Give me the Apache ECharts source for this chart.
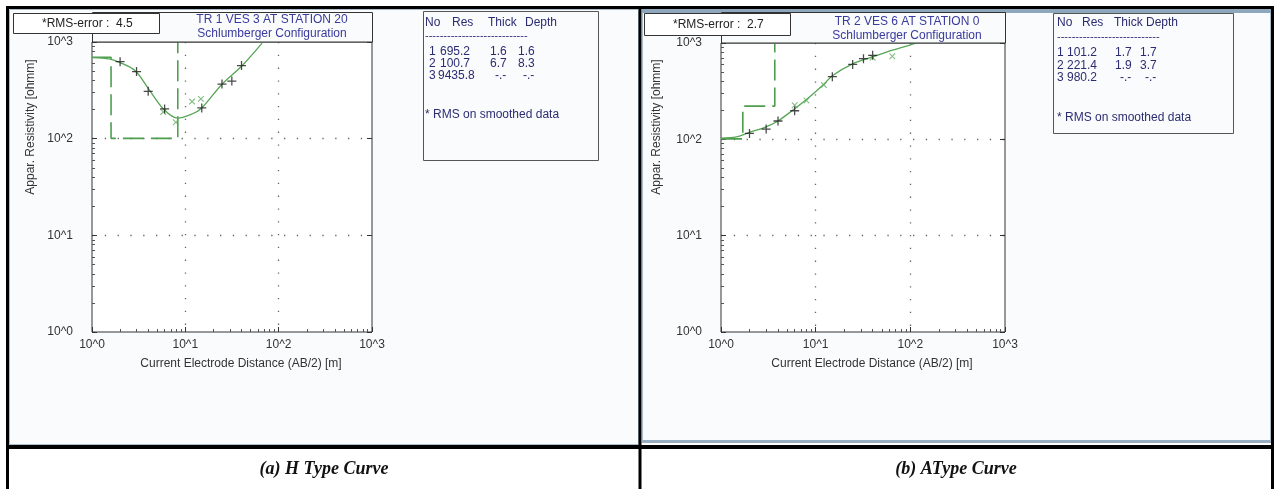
<!DOCTYPE html>
<html><head><meta charset="utf-8">
<script src="https://cdn.jsdelivr.net/npm/echarts@6/dist/echarts.min.js"></script>
<style>html,body{margin:0;padding:0;background:#fff;}#c{width:1275px;height:489px;}</style>
</head><body><div id="c"></div>
<script>
// ---------------- data ----------------
const decadeLabels = ['10^0', '10^1', '10^2', '10^3'];

// (a) H type curve — TR 1 VES 3 AT STATION 20
const hObsX = [2, 3, 4, 6, 15, 24.7, 31.5, 40];
const hObsY = [625, 495, 309, 203, 208, 367, 394, 570];
const hSmoothX = [5.8, 7.9, 11.8, 14.7];
const hSmoothY = [189, 148, 242, 258];
const hCurveX = [1, 1.56, 2, 2.9, 4, 5.8, 8.3, 11.8, 15, 24.7, 40.5, 66.4];
const hCurveY = [690, 665, 612, 504, 332, 204, 163, 180, 208, 366, 569, 975];
const hLayerNo = [1, 2, 3];
const hRes = ['695.2', '100.7', '9435.8'];
const hThick = ['1.6', '6.7', '-.-'];
const hDepth = ['1.6', '8.3', '-.-'];
const hRms = '4.5';
const hTitle = 'TR 1 VES 3 AT STATION 20';
const hCaption = '(a) H Type Curve';

// (b) A type curve — TR 2 VES 6 AT STATION 0
const aObsX = [2, 3, 4, 6, 15, 24.6, 32, 40];
const aObsY = [115, 128, 155, 198, 447, 599, 687, 746];
const aSmoothX = [6, 8, 12.2, 40, 64.5];
const aSmoothY = [226, 253, 367, 705, 728];
const aCurveX = [1, 1.46, 2, 3, 4, 6, 8, 12.2, 15, 24.6, 40, 64.5, 99, 117];
const aCurveY = [103, 106, 118, 135, 155, 208, 259, 373, 458, 608, 716, 843, 953, 1000];
const aLayerNo = [1, 2, 3];
const aRes = ['101.2', '221.4', '980.2'];
const aThick = ['1.7', '1.9', '-.-'];
const aDepth = ['1.7', '3.7', '-.-'];
const aRms = '2.7';
const aTitle = 'TR 2 VES 6 AT STATION 0';
const aCaption = '(b) AType Curve';

const subTitle = 'Schlumberger Configuration';
const xName = 'Current Electrode Distance (AB/2) [m]';
const yName = 'Appar. Resistivity [ohmm]';
const tableHeader = ['No', 'Res', 'Thick', 'Depth'];
const tableNote = '* RMS on smoothed data';

// ---------------- helpers ----------------
const FONT = '"Liberation Sans", Arial, sans-serif';
const pairs = (xs, ys) => xs.map((x, i) => [x, ys[i]]);
function modelSteps(res, depth) {
  const r = res.map(Number), d = depth.filter(v => v !== '-.-').map(Number);
  const pts = [[1, r[0]]];
  d.forEach((dv, i) => { pts.push([dv, r[i]]); pts.push([dv, r[i + 1]]); });
  return pts;
}
const minorVals = [];
[1, 10, 100].forEach(d => { for (let k = 2; k <= 9; k++) minorVals.push(+(d * k).toPrecision(3)); });
const fmt = v => decadeLabels[Math.round(Math.log10(v))];
const PLUS = 'path://M4.3,0h1.4v10h-1.4z M0,4.3h10v1.4h-10z';

const grids = [
  { left: 92, top: 42, width: 280, height: 290 },
  { left: 721, top: 43, width: 284, height: 289 }
];

const xAxes = [], yAxes = [];
grids.forEach((g, gi) => {
  const base = { gridIndex: gi, type: 'log', logBase: 10, min: 1, max: 1000 };
  xAxes.push(Object.assign({}, base, {
    position: 'bottom', axisLine: { show: false },
    axisTick: { inside: true, length: 5, lineStyle: { color: '#333' } },
    axisLabel: { color: '#333', fontSize: 12, fontFamily: FONT, margin: 7, formatter: fmt },
    splitLine: { show: true, showMinLine: false, showMaxLine: false, lineStyle: { color: '#666', width: 1.3, type: [1.3, 11.5] } },
    name: xName, nameLocation: 'middle', nameGap: 26,
    nameTextStyle: { color: '#333', fontSize: 12, fontFamily: FONT, padding: [0, 0, 0, 18] }
  }));
  xAxes.push(Object.assign({}, base, {
    position: 'bottom', axisLine: { show: false },
    axisTick: { inside: true, length: 3, customValues: minorVals, lineStyle: { color: '#555' } },
    axisLabel: { show: false }, splitLine: { show: false }
  }));
  yAxes.push(Object.assign({}, base, {
    position: 'left', axisLine: { show: false },
    axisTick: { inside: true, length: 5, lineStyle: { color: '#333' } },
    axisLabel: { color: '#333', fontSize: 12, fontFamily: FONT, margin: 19, formatter: fmt },
    splitLine: { show: true, showMinLine: false, showMaxLine: false, lineStyle: { color: '#666', width: 1.3, type: [1.3, 11.5] } }
  }));
  yAxes.push(Object.assign({}, base, {
    position: 'left', axisLine: { show: false },
    axisTick: { inside: true, length: 3, customValues: minorVals, lineStyle: { color: '#555' } },
    axisLabel: { show: false }, splitLine: { show: false }
  }));
  yAxes.push(Object.assign({}, base, {
    position: 'right', axisLine: { show: false },
    axisTick: { inside: true, length: 5, lineStyle: { color: '#333' } },
    axisLabel: { show: false }, splitLine: { show: false }
  }));
});

function panelSeries(gi, obsX, obsY, smX, smY, cX, cY, res, depth) {
  const xi = gi * 2, yi = gi * 3;
  return [
    { type: 'line', xAxisIndex: xi, yAxisIndex: yi, data: modelSteps(res, depth), symbol: 'none', clip: true,
      lineStyle: { color: '#4e9e4e', width: 1.6, type: [21, 7] }, z: 3, silent: true },
    { type: 'line', xAxisIndex: xi, yAxisIndex: yi, data: pairs(cX, cY), symbol: 'none', smooth: 0.35, clip: true,
      lineStyle: { color: '#56a656', width: 1.3 }, z: 4, silent: true },
    { type: 'scatter', xAxisIndex: xi, yAxisIndex: yi, data: pairs(smX, smY), symbol: PLUS, symbolSize: 8,
      symbolRotate: 45, itemStyle: { color: '#66ac66' }, z: 5, silent: true },
    { type: 'scatter', xAxisIndex: xi, yAxisIndex: yi, data: pairs(obsX, obsY), symbol: PLUS, symbolSize: 9,
      itemStyle: { color: '#1c1c1c' }, z: 6, silent: true }
  ];
}

// ---------------- decorations ----------------
const gfx = [];
const TBL = '#2c2c72', TTL = '#3a3a9c';
function txt(x, y, s, opt) {
  return Object.assign({ type: 'text', z: 20, x: x, y: y,
    style: Object.assign({ text: s, fill: '#222', font: '12px ' + FONT, textAlign: 'left', textVerticalAlign: 'middle' }, (opt || {}).style || {}) },
    opt && opt.rotation !== undefined ? { rotation: opt.rotation } : {});
}
// panels
gfx.push({ type: 'rect', z: -20, shape: { x: 9.5, y: 9.5, width: 629, height: 435 }, style: { fill: '#f9fbfc', stroke: '#a9bccb', lineWidth: 1 } });
gfx.push({ type: 'rect', z: -20, shape: { x: 642.5, y: 9.5, width: 628, height: 433 }, style: { fill: '#f9fbfc', stroke: '#a9bccb', lineWidth: 1 } });
gfx.push({ type: 'rect', z: -19, shape: { x: 642, y: 9, width: 629, height: 4 }, style: { fill: '#8ea7bc' } });
gfx.push({ type: 'rect', z: -19, shape: { x: 642, y: 440, width: 629, height: 3 }, style: { fill: '#98aec0' } });
// black frame
const blk = (x1, y1, x2, y2, w) => ({ type: 'line', z: 30, shape: { x1, y1, x2, y2 }, style: { stroke: '#000', lineWidth: w } });
gfx.push(blk(6, 7.5, 1274, 7.5, 3));
gfx.push(blk(7.5, 6, 7.5, 489, 3));
gfx.push(blk(640, 6, 640, 489, 3));
gfx.push(blk(1272.5, 6, 1272.5, 489, 3));
gfx.push(blk(6, 447, 1274, 447, 4));

const panels = [
  { g: grids[0], title: hTitle, rms: hRms, rmsBox: [13, 13, 146, 20],
    tbl: { x: 423, y: 11, w: 175, h: 149, hdr: [425, 452, 488, 525], cols: [429, 440, 490, 518], res3: 438, dash: 28, rows: [52, 64, 76], dashY: 39, note: 115 },
    no: hLayerNo, res: hRes, thick: hThick, depth: hDepth, yname: [31, 127], tcx: 272, tcy: [20, 34], caption: hCaption, capX: 324 },
  { g: grids[1], title: aTitle, rms: aRms, rmsBox: [644, 13, 146, 22],
    tbl: { x: 1053, y: 13, w: 180, h: 120, hdr: [1057, 1082, 1114, 1146], cols: [1057, 1067, 1115, 1140], res3: 1067, dash: 28, rows: [53, 65.5, 78], dashY: 40, note: 118 },
    no: aLayerNo, res: aRes, thick: aThick, depth: aDepth, yname: [657, 127], tcx: 907, tcy: [22, 36], caption: aCaption, capX: 956 }
];
panels.forEach(p => {
  const g = p.g;
  // title box above plot
  gfx.push({ type: 'rect', z: 8, shape: { x: g.left + 0.5, y: p.rmsBox[1] - 0.5, width: g.width, height: g.top - p.rmsBox[1] + 0.5 }, style: { fill: '#f9fbfc', stroke: '#333', lineWidth: 1 } });
  gfx.push(txt(p.tcx, p.tcy[0], p.title, { style: { fill: TTL, textAlign: 'center' } }));
  gfx.push(txt(p.tcx, p.tcy[1], subTitle, { style: { fill: TTL, textAlign: 'center' } }));
  // RMS box
  const b = p.rmsBox;
  gfx.push({ type: 'rect', z: 15, shape: { x: b[0] + 0.5, y: b[1] + 0.5, width: b[2], height: b[3] }, style: { fill: '#fff', stroke: '#333', lineWidth: 1 } });
  gfx.push(txt(b[0] + 29, b[1] + b[3] / 2 + 1, '*RMS-error :  ' + p.rms, { style: { fill: '#222' } }));
  // y axis name
  gfx.push(txt(p.yname[0], p.yname[1], yName, { rotation: Math.PI / 2, style: { fill: '#333', textAlign: 'center' } }));
  // layer table
  const t = p.tbl;
  gfx.push({ type: 'rect', z: 8, shape: { x: t.x + 0.5, y: t.y + 0.5, width: t.w, height: t.h }, style: { fill: '#f9fbfc', stroke: '#555', lineWidth: 1 } });
  tableHeader.forEach((h, i) => gfx.push(txt(t.hdr[i], 23, h, { style: { fill: TBL } })));
  gfx.push(txt(t.hdr[0], t.dashY - 3, '-'.repeat(t.dash), { style: { fill: TBL, font: '11px ' + FONT } }));
  p.no.forEach((n, i) => {
    const vals = [String(n), p.res[i], p.thick[i], p.depth[i]];
    vals.forEach((v, j) => {
      let x = t.cols[j];
      if (j === 1 && i === 2) x = t.res3;
      if (j > 1 && v === '-.-') x += 5;
      gfx.push(txt(x, t.rows[i], v, { style: { fill: TBL } }));
    });
  });
  gfx.push(txt(t.hdr[0], t.note, tableNote, { style: { fill: TBL } }));
  // caption
  gfx.push(txt(p.capX, 469, p.caption, { style: { fill: '#111', textAlign: 'center', font: 'italic bold 18px "Liberation Serif", serif' } }));
});

const option = {
  animation: false,
  backgroundColor: '#fff',
  grid: grids.map(g => Object.assign({ show: true, backgroundColor: '#fff', borderColor: '#333', borderWidth: 1, containLabel: false }, g)),
  xAxis: xAxes,
  yAxis: yAxes,
  graphic: { elements: gfx },
  series: [].concat(
    panelSeries(0, hObsX, hObsY, hSmoothX, hSmoothY, hCurveX, hCurveY, hRes, hDepth),
    panelSeries(1, aObsX, aObsY, aSmoothX, aSmoothY, aCurveX, aCurveY, aRes, aDepth)
  )
};
const chart = echarts.init(document.getElementById('c'));
chart.setOption(option);
</script>
</body></html>
